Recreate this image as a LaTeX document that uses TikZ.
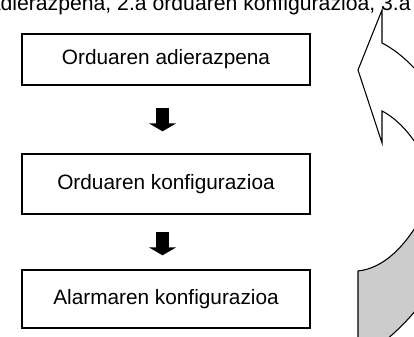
\documentclass[tikz,border=0pt]{standalone}
\usepackage{fontspec}
\setmainfont{Liberation Sans}
\usetikzlibrary{arrows.meta}
\tikzset{
  kasten/.style={draw=black, line width=1pt, fill=white, minimum width=216pt, inner sep=0pt,
                 font=\fontsize{15.6}{18}\selectfont},
  blokegezi/.style={line width=9.75pt, -{Triangle[width=20.25pt, length=6pt]}},
}
\begin{document}
\begin{tikzpicture}[x=0.75pt, y=-0.75pt, line join=miter]
	\useasboundingbox (0,0) rectangle (414,336);
	\clip (0,0) rectangle (414,336);
	\node[anchor=base east, inner sep=0pt, font=\fontsize{15.9}{18}\selectfont] (goiburua) at (411,10)
	     {adierazpena, 2.a orduaren konfigurazioa, 3.a};
	\node[kasten, minimum height=38.25pt] (adierazpena) at (166,59.5)  {Orduaren adierazpena};
	\node[kasten, minimum height=45pt]    (konfig)      at (166,184)   {Orduaren konfigurazioa};
	\node[kasten, minimum height=43.5pt]  (alarma)      at (166,299)   {Alarmaren konfigurazioa};
	\draw[blokegezi] ([xshift=-2.6pt, yshift=-16.5pt]adierazpena.south) -- ([xshift=-2.6pt, yshift=16.5pt]konfig.north);
	\draw[blokegezi] ([xshift=-2.6pt, yshift=-12.75pt]konfig.south) -- ([xshift=-2.6pt, yshift=10.5pt]alarma.north);
	%gezi kurbatua (eskuinean moztuta)
	\begin{scope}[line width=0.8pt]
	\filldraw[fill=white] (382,10) -- (358,70) -- (382,143) -- (382,111)
	     .. controls (396,118) and (410,133) .. (420,150) -- (440,150) -- (440,88) -- (430,88)
	     .. controls (418,70) and (400,52) .. (382,43) -- cycle;
	\filldraw[fill=black!20] (358,271) .. controls (385,268) and (405,245) .. (420,220)
	     -- (440,220) -- (440,300) -- (420,305)
	     .. controls (410,318) and (398,330) .. (386,340) -- (370,350) -- (358,350) -- cycle;
	\end{scope}
\end{tikzpicture}
\end{document}
